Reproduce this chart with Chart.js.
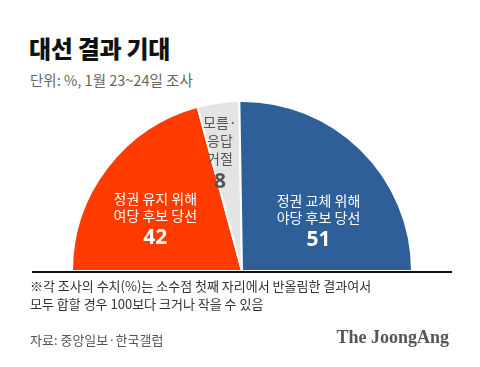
<!DOCTYPE html>
<html>
<head>
<meta charset="utf-8">
<script src="https://cdn.jsdelivr.net/npm/chart.js@4"></script>
<style>
    body { margin: 0; width: 480px; height: 367px; background: #fff; position: relative; overflow: hidden;
        font-family: "Noto Sans CJK KR", "Noto Sans", sans-serif; }
    #title { position: absolute; left: 29px; top: 30px; font-size: 24px; font-weight: 900; color: #111; letter-spacing: -0.3px; }
    #sub { position: absolute; left: 30px; top: 69px; font-size: 14.5px; color: #666; letter-spacing: 0; }
    #wrap { position: absolute; left: 70px; top: 100px; width: 344px; height: 172px; }
    #base { position: absolute; left: 32px; top: 271px; width: 420px; height: 2px; background: #111; }
    .note { position: absolute; left: 30px; font-size: 13px; color: #333; letter-spacing: 0; }
    #src { position: absolute; left: 30px; top: 330px; font-size: 13px; color: #555; letter-spacing: 0; }
    #logo { position: absolute; right: 31px; top: 327px; font-family: "Liberation Serif", "DejaVu Serif", serif;
        font-weight: 700; font-size: 18px; color: #555; }
</style>
</head>
<body>
<div id="title">대선 결과 기대</div>
<div id="sub">단위: %, 1월 23~24일 조사</div>
<div id="wrap"><canvas id="c"></canvas></div>
<div id="base"></div>
<div class="note" style="top:276px">※각 조사의 수치(%)는 소수점 첫째 자리에서 반올림한 결과여서</div>
<div class="note" style="top:294px">모두 합할 경우 100보다 크거나 작을 수 있음</div>
<div id="src">자료: 중앙일보·한국갤럽</div>
<div id="logo">The JoongAng</div>

<script>
const categories = [
    ['정권 유지 위해', '여당 후보 당선'],
    ['모름·', '응답', '거절'],
    ['정권 교체 위해', '야당 후보 당선']
];
const values = [42, 8, 51];
const colors = ['#FF3B00', '#E4E4E4', '#2E5F99'];
const textColors = ['#fff', '#555', '#fff'];
// label anchor relative to the pie centre, in units of radius
const labelPos = [[-0.51, 0.31], [-0.13, 0.70], [0.45, 0.30]];

// writes the category name and value inside each slice
const sliceLabels = {
    id: 'sliceLabels',
    afterDatasetsDraw(chart) {
        const ctx = chart.ctx;
        const meta = chart.getDatasetMeta(0);
        meta.data.forEach((arc, i) => {
            const r = arc.outerRadius;
            const x = arc.x + labelPos[i][0] * r;
            const y = arc.y - labelPos[i][1] * r;
            const lines = categories[i];
            const lh = i === 1 ? 18 : 17;
            let top = y - (lines.length * lh + 22) / 2;
            ctx.save();
            ctx.fillStyle = textColors[i];
            ctx.textAlign = 'center';
            ctx.textBaseline = 'middle';
            ctx.font = '14px "Noto Sans CJK KR"';
            lines.forEach((t, j) => ctx.fillText(t, x, top + lh * j + lh / 2));
            ctx.font = 'bold 21px "Noto Sans", "Noto Sans CJK KR"';
            ctx.fillText(values[i], x, top + lines.length * lh + 14);
            ctx.restore();
        });
    }
};

new Chart(document.getElementById('c'), {
    type: 'doughnut',
    data: {
        labels: categories.map(c => c.join(' ')),
        datasets: [{
            data: values,
            backgroundColor: colors,
            borderColor: '#fff',
            borderWidth: 2
        }]
    },
    options: {
        responsive: true,
        maintainAspectRatio: false,
        animation: false,
        rotation: -90,
        circumference: 180,
        cutout: 0,
        layout: { padding: 0 },
        plugins: {
            legend: { display: false },
            tooltip: { enabled: false }
        }
    },
    plugins: [sliceLabels]
});
</script>
</body>
</html>
